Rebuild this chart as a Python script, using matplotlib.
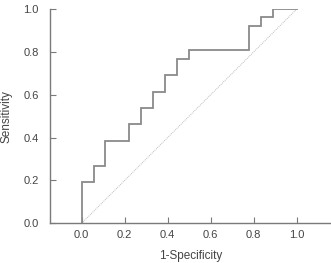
import matplotlib
matplotlib.use("Agg")
import matplotlib.pyplot as plt

plt.rcParams["font.family"] = ["Liberation Sans Narrow", "Liberation Sans", "DejaVu Sans"]

# ROC vertices as counts: 18 negatives, 26 positives
n_neg = 18
n_pos = 26
fp_counts = [0, 0, 1, 1, 2, 2, 4, 4, 5, 5, 6, 6, 7, 7, 8, 8, 9, 9, 14, 14, 15, 15, 16, 16, 18]
tp_counts = [0, 5, 5, 7, 7, 10, 10, 12, 12, 14, 14, 16, 16, 18, 18, 20, 20, 21, 21, 24, 24, 25, 25, 26, 26]

fpr = [c / n_neg for c in fp_counts]
tpr = [c / n_pos for c in tp_counts]

ticks = [0.0, 0.2, 0.4, 0.6, 0.8, 1.0]
tick_labels = ["0.0", "0.2", "0.4", "0.6", "0.8", "1.0"]

text_color = "#444444"
axis_color = "#7a7a7a"

fig = plt.figure(figsize=(3.31, 2.63), dpi=100)
ax = fig.add_axes([0.151, 0.151, 0.849, 0.814])

ax.plot([0, 1], [0, 1], color="#bbbbbb", linestyle=(0, (1, 1)), linewidth=0.7)
ax.plot(fpr, tpr, color="#8a8a8a", linewidth=1.3, solid_joinstyle="miter")

ax.set_xlim(-0.147, 1.16)
ax.set_ylim(0, 1.0)

ax.set_xticks(ticks)
ax.set_xticklabels(tick_labels)
ax.set_yticks(ticks)
ax.set_yticklabels(tick_labels)

ax.spines["top"].set_visible(False)
ax.spines["right"].set_visible(False)
for side in ["left", "bottom"]:
    ax.spines[side].set_color(axis_color)
    ax.spines[side].set_linewidth(1.0)

ax.tick_params(axis="both", direction="in", length=4, width=0.8,
               color=axis_color, labelcolor=text_color, labelsize=8)
ax.tick_params(axis="x", pad=5)
ax.tick_params(axis="y", pad=8)

ax.set_xlabel("1-Specificity", fontsize=8.5, color=text_color, labelpad=7)
ax.set_ylabel("Sensitivity", fontsize=8.5, color=text_color, labelpad=8)

fig.savefig("out.png", dpi=100)
plt.close()
